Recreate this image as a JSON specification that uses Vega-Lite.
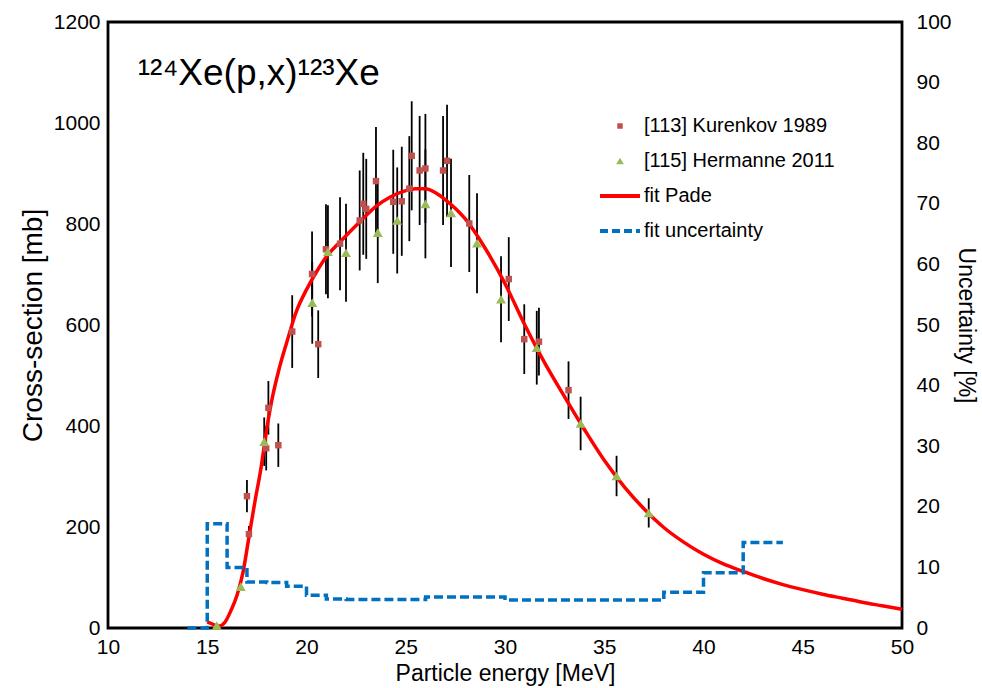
{
  "$schema": "https://vega.github.io/schema/vega-lite/v6.json",
  "width": 794,
  "height": 606,
  "autosize": {"type": "none"},
  "padding": {"left": 108, "top": 22, "right": 80, "bottom": 60},
  "background": "white",
  "config": {
    "font": "Liberation Sans",
    "view": {"stroke": "black", "strokeWidth": 2.8},
    "axis": {"grid": false, "domain": false, "ticks": false, "labelFontSize": 21, "titleFontSize": 23, "labelColor": "black", "titleColor": "black", "titleFontWeight": "normal", "labelFont": "Liberation Sans", "titleFont": "Liberation Sans", "labelFlush": false, "format": "d"}
  },
  "datasets": {
    "exp": [
      {"series": "[113] Kurenkov 1989", "e": 17.0, "xs": 261, "err": 32},
      {"series": "[113] Kurenkov 1989", "e": 17.1, "xs": 186, "err": 16},
      {"series": "[113] Kurenkov 1989", "e": 17.97, "xs": 356, "err": 44},
      {"series": "[113] Kurenkov 1989", "e": 18.08, "xs": 436, "err": 53},
      {"series": "[113] Kurenkov 1989", "e": 18.58, "xs": 362, "err": 43},
      {"series": "[113] Kurenkov 1989", "e": 19.28, "xs": 587, "err": 72},
      {"series": "[113] Kurenkov 1989", "e": 20.28, "xs": 701, "err": 84},
      {"series": "[113] Kurenkov 1989", "e": 20.59, "xs": 562, "err": 67},
      {"series": "[113] Kurenkov 1989", "e": 20.98, "xs": 750, "err": 89},
      {"series": "[113] Kurenkov 1989", "e": 21.69, "xs": 761, "err": 92},
      {"series": "[113] Kurenkov 1989", "e": 22.68, "xs": 807, "err": 99},
      {"series": "[113] Kurenkov 1989", "e": 22.86, "xs": 840, "err": 101},
      {"series": "[113] Kurenkov 1989", "e": 23.01, "xs": 830, "err": 99},
      {"series": "[113] Kurenkov 1989", "e": 23.5, "xs": 885, "err": 107},
      {"series": "[113] Kurenkov 1989", "e": 24.37, "xs": 844, "err": 103},
      {"series": "[113] Kurenkov 1989", "e": 24.8, "xs": 845, "err": 108},
      {"series": "[113] Kurenkov 1989", "e": 25.18, "xs": 870, "err": 104},
      {"series": "[113] Kurenkov 1989", "e": 25.3, "xs": 935, "err": 108},
      {"series": "[113] Kurenkov 1989", "e": 25.7, "xs": 906, "err": 108},
      {"series": "[113] Kurenkov 1989", "e": 25.99, "xs": 910, "err": 108},
      {"series": "[113] Kurenkov 1989", "e": 26.88, "xs": 906, "err": 108},
      {"series": "[113] Kurenkov 1989", "e": 27.08, "xs": 925, "err": 111},
      {"series": "[113] Kurenkov 1989", "e": 28.2, "xs": 801, "err": 96},
      {"series": "[113] Kurenkov 1989", "e": 30.19, "xs": 691, "err": 83},
      {"series": "[113] Kurenkov 1989", "e": 30.97, "xs": 572, "err": 69},
      {"series": "[113] Kurenkov 1989", "e": 31.71, "xs": 567, "err": 67},
      {"series": "[113] Kurenkov 1989", "e": 33.2, "xs": 471, "err": 57},
      {"series": "[115] Hermanne 2011", "e": 15.48, "xs": 5, "err": 3},
      {"series": "[115] Hermanne 2011", "e": 16.69, "xs": 82, "err": 8},
      {"series": "[115] Hermanne 2011", "e": 17.87, "xs": 369, "err": 48},
      {"series": "[115] Hermanne 2011", "e": 20.29, "xs": 644, "err": 81},
      {"series": "[115] Hermanne 2011", "e": 21.08, "xs": 745, "err": 92},
      {"series": "[115] Hermanne 2011", "e": 21.99, "xs": 743, "err": 97},
      {"series": "[115] Hermanne 2011", "e": 23.59, "xs": 783, "err": 100},
      {"series": "[115] Hermanne 2011", "e": 24.57, "xs": 807, "err": 105},
      {"series": "[115] Hermanne 2011", "e": 25.99, "xs": 840, "err": 108},
      {"series": "[115] Hermanne 2011", "e": 27.28, "xs": 822, "err": 107},
      {"series": "[115] Hermanne 2011", "e": 28.59, "xs": 762, "err": 99},
      {"series": "[115] Hermanne 2011", "e": 29.8, "xs": 651, "err": 85},
      {"series": "[115] Hermanne 2011", "e": 31.6, "xs": 555, "err": 73},
      {"series": "[115] Hermanne 2011", "e": 33.81, "xs": 405, "err": 53},
      {"series": "[115] Hermanne 2011", "e": 35.62, "xs": 301, "err": 40},
      {"series": "[115] Hermanne 2011", "e": 37.24, "xs": 228, "err": 29}
    ],
    "pade": [
      {"e": 15.0, "xs": 12}, {"e": 15.3, "xs": 7}, {"e": 15.6, "xs": 4}, {"e": 15.9, "xs": 12},
      {"e": 16.2, "xs": 35}, {"e": 16.5, "xs": 65}, {"e": 16.8, "xs": 110}, {"e": 17.1, "xs": 180},
      {"e": 17.4, "xs": 250}, {"e": 17.7, "xs": 315}, {"e": 18.0, "xs": 395}, {"e": 18.3, "xs": 460},
      {"e": 18.6, "xs": 510}, {"e": 19.0, "xs": 565}, {"e": 19.5, "xs": 628}, {"e": 20.0, "xs": 670},
      {"e": 20.5, "xs": 705}, {"e": 21.0, "xs": 735}, {"e": 21.7, "xs": 765}, {"e": 22.7, "xs": 805},
      {"e": 23.5, "xs": 835}, {"e": 24.2, "xs": 853}, {"e": 25.0, "xs": 866}, {"e": 25.5, "xs": 870},
      {"e": 26.0, "xs": 870}, {"e": 26.5, "xs": 862}, {"e": 27.0, "xs": 848}, {"e": 28.0, "xs": 810},
      {"e": 29.0, "xs": 752}, {"e": 30.0, "xs": 682}, {"e": 31.0, "xs": 600}, {"e": 32.0, "xs": 525},
      {"e": 33.0, "xs": 458}, {"e": 34.0, "xs": 393}, {"e": 35.0, "xs": 332}, {"e": 36.0, "xs": 280},
      {"e": 37.0, "xs": 236}, {"e": 38.0, "xs": 199}, {"e": 39.0, "xs": 170}, {"e": 40.0, "xs": 146},
      {"e": 41.0, "xs": 127}, {"e": 42.0, "xs": 112}, {"e": 43.0, "xs": 98}, {"e": 44.0, "xs": 86},
      {"e": 45.0, "xs": 76}, {"e": 46.0, "xs": 67}, {"e": 47.0, "xs": 59}, {"e": 48.0, "xs": 51},
      {"e": 49.0, "xs": 44}, {"e": 50.0, "xs": 37}
    ],
    "unc": [
      {"e": 14, "u": 0}, {"e": 15, "u": 17.2}, {"e": 16, "u": 10}, {"e": 17, "u": 7.6},
      {"e": 18, "u": 7.5}, {"e": 19, "u": 6.9}, {"e": 20, "u": 5.4}, {"e": 21, "u": 4.8},
      {"e": 22, "u": 4.7}, {"e": 23, "u": 4.7}, {"e": 24, "u": 4.7}, {"e": 25, "u": 4.7},
      {"e": 26, "u": 5.1}, {"e": 27, "u": 5.1}, {"e": 28, "u": 5.1}, {"e": 29, "u": 5.1},
      {"e": 30, "u": 4.6}, {"e": 31, "u": 4.6}, {"e": 32, "u": 4.6}, {"e": 33, "u": 4.6},
      {"e": 34, "u": 4.6}, {"e": 35, "u": 4.6}, {"e": 36, "u": 4.6}, {"e": 37, "u": 4.6},
      {"e": 38, "u": 5.9}, {"e": 39, "u": 5.9}, {"e": 40, "u": 9.1}, {"e": 41, "u": 9.1},
      {"e": 42, "u": 14.1}, {"e": 43, "u": 14.1}, {"e": 44, "u": 14.1}
    ],
    "label": [
      {"e": 11.5, "xs": 1076, "t": "¹²⁴Xe(p,x)¹²³Xe"}
    ]
  },
  "layer": [
    {
      "layer": [
        {
          "data": {"name": "exp"},
          "mark": {"type": "errorbar", "color": "black", "thickness": 1.8},
          "encoding": {
            "x": {"field": "e", "type": "quantitative"},
            "y": {"field": "xs", "type": "quantitative"},
            "yError": {"field": "err"}
          }
        },
        {
          "data": {"name": "pade"},
          "mark": {"type": "line", "strokeWidth": 3.5, "interpolate": "monotone"},
          "encoding": {
            "x": {"field": "e", "type": "quantitative"},
            "y": {"field": "xs", "type": "quantitative"},
            "color": {"datum": "fit Pade"}
          }
        },
        {
          "data": {"name": "exp"},
          "mark": {"type": "point", "filled": true, "opacity": 1},
          "encoding": {
            "x": {"field": "e", "type": "quantitative"},
            "y": {"field": "xs", "type": "quantitative"},
            "color": {"field": "series", "type": "nominal"},
            "shape": {"field": "series", "type": "nominal", "legend": null, "scale": {"domain": ["[113] Kurenkov 1989", "[115] Hermanne 2011"], "range": ["square", "triangle-up"]}},
            "size": {"field": "series", "type": "nominal", "legend": null, "scale": {"domain": ["[113] Kurenkov 1989", "[115] Hermanne 2011"], "range": [42, 100]}}
          }
        },
        {
          "data": {"name": "label"},
          "mark": {"type": "text", "align": "left", "baseline": "alphabetic", "fontSize": 37, "font": "Liberation Sans", "color": "black"},
          "encoding": {
            "x": {"field": "e", "type": "quantitative"},
            "y": {"field": "xs", "type": "quantitative"},
            "text": {"field": "t"}
          }
        }
      ],
      "encoding": {
        "x": {"field": "e", "type": "quantitative", "scale": {"domain": [10, 50], "nice": false}, "axis": {"values": [10, 15, 20, 25, 30, 35, 40, 45, 50], "title": "Particle energy [MeV]", "labelPadding": 8, "titlePadding": 5}},
        "y": {"field": "xs", "type": "quantitative", "scale": {"domain": [0, 1200], "nice": false}, "axis": {"values": [0, 200, 400, 600, 800, 1000, 1200], "title": "Cross-section [mb]", "titleFontSize": 28, "labelPadding": 8, "titlePadding": 6}}
      }
    },
    {
      "data": {"name": "unc"},
      "mark": {"type": "line", "interpolate": "step-after", "strokeWidth": 3.5, "strokeDash": [9, 4]},
      "encoding": {
        "x": {"field": "e", "type": "quantitative"},
        "y": {"field": "u", "type": "quantitative", "scale": {"domain": [0, 100], "nice": false}, "axis": {"orient": "right", "values": [0, 10, 20, 30, 40, 50, 60, 70, 80, 90, 100], "title": "Uncertainty [%]", "titleFontSize": 23, "labelPadding": 14, "titlePadding": 2}},
        "color": {"datum": "fit uncertainty"}
      }
    }
  ],
  "resolve": {"scale": {"y": "independent"}},
  "encoding": {
    "color": {
      "type": "nominal",
      "scale": {"domain": ["[113] Kurenkov 1989", "[115] Hermanne 2011", "fit Pade", "fit uncertainty"], "range": ["#C0504D", "#9BBB59", "#FF0000", "#0070C0"]},
      "legend": {
        "title": null,
        "orient": "none",
        "legendX": 502,
        "legendY": 94,
        "padding": 0,
        "labelFontSize": 20,
        "labelColor": "black",
        "labelFont": "Liberation Sans",
        "labelOffset": 14,
        "labelLimit": 400,
        "symbolSize": 1600,
        "rowPadding": 15,
        "encode": {
          "symbols": {
            "update": {
              "shape": {"signal": "datum.value === 'fit Pade' || datum.value === 'fit uncertainty' ? 'stroke' : (datum.value === '[113] Kurenkov 1989' ? 'square' : 'triangle-up')"},
              "size": {"signal": "datum.value === 'fit Pade' || datum.value === 'fit uncertainty' ? 1600 : (datum.value === '[113] Kurenkov 1989' ? 30 : 60)"},
              "strokeWidth": {"signal": "datum.value === 'fit Pade' || datum.value === 'fit uncertainty' ? 4 : 0"},
              "strokeDash": {"signal": "datum.value === 'fit uncertainty' ? [8, 4] : [1, 0]"},
              "fill": {"signal": "scale('color', datum.value)"},
              "stroke": {"signal": "scale('color', datum.value)"},
              "opacity": {"value": 1},
              "fillOpacity": {"value": 1}
            }
          }
        }
      }
    }
  }
}
